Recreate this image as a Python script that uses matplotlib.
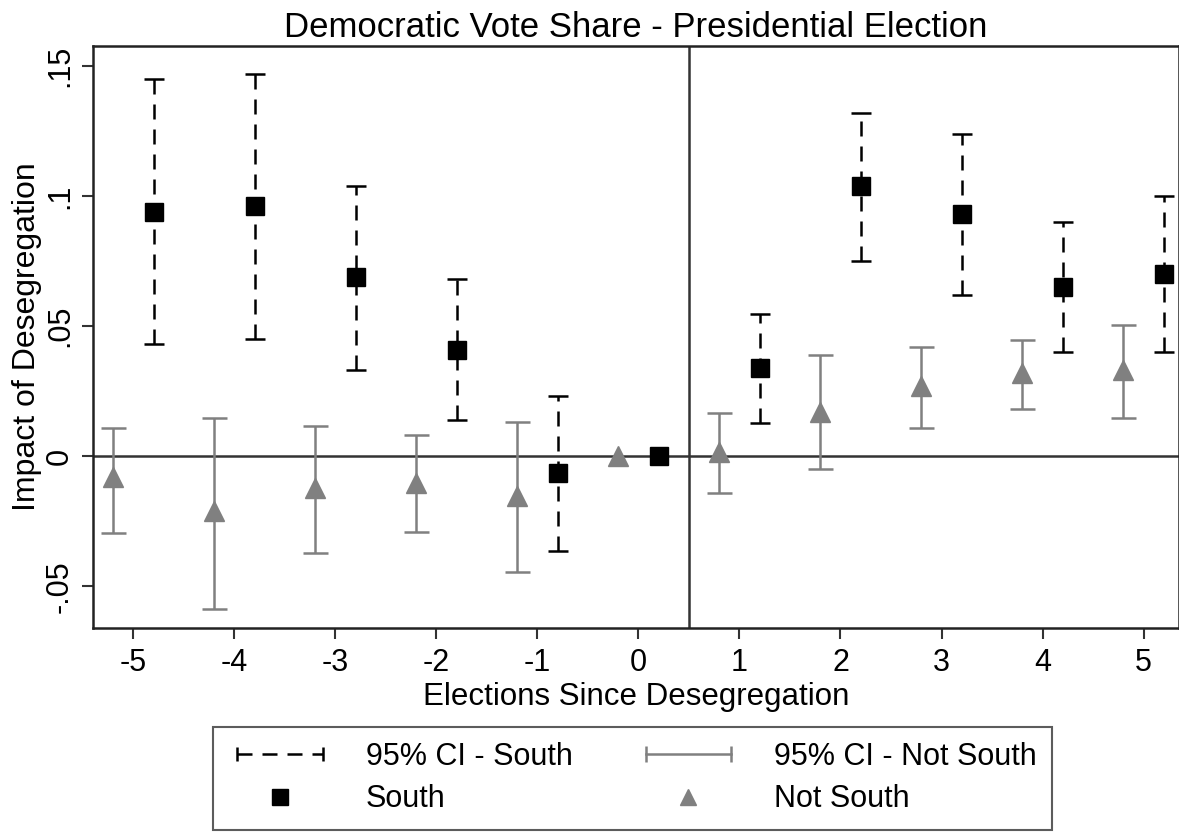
import numpy as np
import matplotlib
matplotlib.use("Agg")
import matplotlib.pyplot as plt
from matplotlib.lines import Line2D
from matplotlib.legend_handler import HandlerLine2D

plt.rcParams['font.family'] = ['Liberation Sans', 'DejaVu Sans']
plt.rcParams['axes.unicode_minus'] = False

# elections since desegregation
elections = np.array([-5, -4, -3, -2, -1, 0, 1, 2, 3, 4, 5])

# South estimates and 95% CI
south = np.array([0.094, 0.096, 0.069, 0.041, -0.0065, 0.0, 0.034, 0.104, 0.093, 0.065, 0.070])
south_hi = np.array([0.145, 0.147, 0.104, 0.068, 0.023, 0.0, 0.0546, 0.132, 0.124, 0.090, 0.100])
south_lo = np.array([0.043, 0.045, 0.033, 0.014, -0.0365, 0.0, 0.0127, 0.075, 0.062, 0.040, 0.040])

# Not South estimates and 95% CI
north = np.array([-0.008, -0.021, -0.012, -0.0104, -0.0154, 0.0, 0.0015, 0.017, 0.027, 0.032, 0.033])
north_hi = np.array([0.0108, 0.0146, 0.0115, 0.0081, 0.013, 0.0, 0.0165, 0.0388, 0.042, 0.0446, 0.0504])
north_lo = np.array([-0.0296, -0.0585, -0.0373, -0.029, -0.0446, 0.0, -0.014, -0.005, 0.011, 0.0183, 0.0146])

yticks = [-0.05, 0, 0.05, 0.1, 0.15]
ytick_labels = ['-.05', '0', '.05', '.1', '.15']

fig = plt.figure(figsize=(11.79, 8.33), dpi=100)
ax = fig.add_axes([0.0789, 0.246, 0.921, 0.699])

gray = '#808080'
offset = 0.2
dash = (0, (6, 4))

# reference lines
ax.axhline(0, color='#333333', lw=1.8, zorder=1)
ax.axvline(0.5, color='#333333', lw=1.8, zorder=1)

# CI bars, the reference period has none
mask = elections != 0
xs = elections + offset
xn = elections - offset

eb_n = ax.errorbar(xn[mask], north[mask],
                   yerr=[north[mask] - north_lo[mask], north_hi[mask] - north[mask]],
                   fmt='none', ecolor=gray, elinewidth=1.8, capsize=9, capthick=1.8, zorder=2)
eb_s = ax.errorbar(xs[mask], south[mask],
                   yerr=[south[mask] - south_lo[mask], south_hi[mask] - south[mask]],
                   fmt='none', ecolor='black', elinewidth=1.8, capsize=7, capthick=1.8, zorder=2)
eb_s[2][0].set_linestyle(dash)

ax.plot(xn, north, ls='none', marker='^', ms=15, color=gray, zorder=3)
ax.plot(xs, south, ls='none', marker='s', ms=13, color='black', zorder=3)

ax.set_xlim(-5.4, 5.35)
ax.set_ylim(-0.066, 0.1577)
ax.set_xticks(elections)
ax.set_yticks(yticks)
ax.set_yticklabels(ytick_labels, rotation=90, va='center')
ax.tick_params(axis='both', labelsize=22, length=8, width=1.5, color='#333333')
ax.tick_params(axis='y', pad=5)
ax.tick_params(axis='x', pad=6)
for s in ax.spines.values():
    s.set_linewidth(1.8)
    s.set_color('#222222')

ax.set_title('Democratic Vote Share - Presidential Election', fontsize=25, pad=6)
ax.set_xlabel('Elections Since Desegregation', fontsize=22.5, labelpad=3)
ax.set_ylabel('Impact of Desegregation', fontsize=23, labelpad=2)

# legend
h_ci_s = Line2D([], [], color='black', lw=1.8, ls=dash, marker='|', ms=10, mew=1.8)
h_ci_n = Line2D([], [], color=gray, lw=1.8, marker='|', ms=12, mew=1.8)
h_s = Line2D([], [], ls='none', marker='s', ms=11, color='black')
h_n = Line2D([], [], ls='none', marker='^', ms=12, color=gray)
leg = fig.legend([h_ci_s, h_s, h_ci_n, h_n],
                 ['95% CI - South', 'South', '95% CI - Not South', 'Not South'],
                 ncol=2, loc='lower left', mode='expand',
                 bbox_to_anchor=(0.1807, 0.004, 0.7116, 0.122), borderaxespad=0,
                 fontsize=22, frameon=True, fancybox=False, edgecolor='#333333',
                 handlelength=3.4, handletextpad=1.1, labelspacing=0.4, borderpad=0.5,
                 handler_map={h_ci_s: HandlerLine2D(numpoints=2),
                              h_ci_n: HandlerLine2D(numpoints=2),
                              h_s: HandlerLine2D(numpoints=1),
                              h_n: HandlerLine2D(numpoints=1)})
leg.get_frame().set_linewidth(1.5)

fig.savefig('out.png', dpi=100)
